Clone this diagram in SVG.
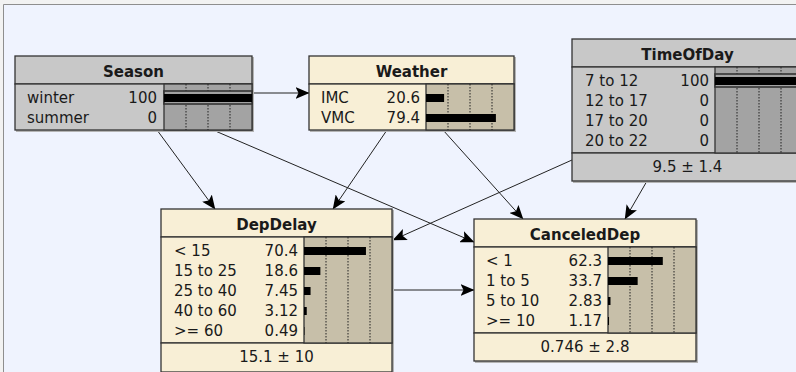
<svg xmlns="http://www.w3.org/2000/svg" width="796" height="372" viewBox="0 0 796 372">
<defs>
<style>
.t{font-family:"DejaVu Sans",sans-serif;font-size:15px;fill:#1a1a1a}
.b{font-weight:bold;text-anchor:middle}
.r{text-anchor:end}
.m{text-anchor:middle}
.cream{fill:#F8EFD6;stroke:#333;stroke-width:1.3}
.tan{fill:#C7BFA9;stroke:#333;stroke-width:1.3}
.grey{fill:#C8C8C8;stroke:#333;stroke-width:1.3}
.dgrey{fill:#A3A3A3;stroke:#333;stroke-width:1.3}
.sh{fill:#B4B4B4}
.bar{fill:#000}
.dot{stroke:#222;stroke-width:1;stroke-dasharray:1.5,1.5}
.sel{fill:#A3A3A3;stroke:#333;stroke-width:1.6}
.edge{stroke:#222;stroke-width:1;fill:none;marker-end:url(#ah)}
</style>
<marker id="ah" markerUnits="userSpaceOnUse" markerWidth="14" markerHeight="12" viewBox="0 0 14 12" refX="13.5" refY="6" orient="auto">
<path d="M0,0 L14,6 L0,12 L3,6 Z" fill="#000"/>
</marker>
</defs>
<rect x="0" y="0" width="796" height="372" fill="#F2F2F2"/>
<rect x="4" y="5" width="792" height="367" fill="#EFF3FE"/>
<path d="M3.5,372 V4.5 H796" stroke="#8E8E8E" stroke-width="1" fill="none"/>

<g id="connectors">
<path class="edge" d="M252,93 L309,93"/>
<path class="edge" d="M157,130 L215,209"/>
<path class="edge" d="M213,130 L474,242"/>
<path class="edge" d="M387,130 L333,209"/>
<path class="edge" d="M443,130 L523,219"/>
<path class="edge" d="M572,160 L393,240"/>
<path class="edge" d="M647,181 L625,219"/>
<path class="edge" d="M392,290 L474,290"/>
</g>

<g id="Season">
<rect class="sh" x="16" y="57" width="238" height="75"/>
<rect class="grey" x="15" y="56" width="237" height="28"/>
<rect class="grey" x="15" y="84" width="237" height="46"/>
<rect class="dgrey" x="164" y="84" width="88" height="46"/>
<line class="dot" x1="186" y1="84" x2="186" y2="130"/>
<line class="dot" x1="208" y1="84" x2="208" y2="130"/>
<line class="dot" x1="230" y1="84" x2="230" y2="130"/>
<rect class="sel" x="164" y="91" width="88" height="13"/>
<rect class="bar" x="164" y="94" width="88" height="8"/>
<text class="t b" x="133.5" y="77">Season</text>
<text class="t" x="27" y="102.5">winter</text>
<text class="t r" x="157" y="102.5">100</text>
<text class="t" x="27" y="122.5">summer</text>
<text class="t r" x="157" y="122.5">0</text>
</g>

<g id="Weather">
<rect class="sh" x="310" y="57" width="206" height="75"/>
<rect class="cream" x="309" y="56" width="205" height="28"/>
<rect class="cream" x="309" y="84" width="205" height="46"/>
<rect class="tan" x="426" y="84" width="88" height="46"/>
<line class="dot" x1="448" y1="84" x2="448" y2="130"/>
<line class="dot" x1="470" y1="84" x2="470" y2="130"/>
<line class="dot" x1="492" y1="84" x2="492" y2="130"/>
<rect class="bar" x="426" y="94" width="18.1" height="8"/>
<rect class="bar" x="426" y="114" width="69.9" height="8"/>
<text class="t b" x="411.5" y="77">Weather</text>
<text class="t" x="321" y="102.5">IMC</text>
<text class="t r" x="420" y="102.5">20.6</text>
<text class="t" x="321" y="122.5">VMC</text>
<text class="t r" x="420" y="122.5">79.4</text>
</g>

<g id="TimeOfDay">
<rect class="sh" x="573" y="40" width="232" height="143"/>
<rect class="grey" x="572" y="39" width="231" height="28"/>
<rect class="grey" x="572" y="67" width="231" height="86"/>
<rect class="grey" x="572" y="153" width="231" height="28"/>
<rect class="dgrey" x="715" y="67" width="88" height="86"/>
<line class="dot" x1="737" y1="67" x2="737" y2="153"/>
<line class="dot" x1="759" y1="67" x2="759" y2="153"/>
<line class="dot" x1="781" y1="67" x2="781" y2="153"/>
<rect class="sel" x="715" y="74" width="88" height="13"/>
<rect class="bar" x="715" y="77" width="88" height="8"/>
<text class="t b" x="687.5" y="60">TimeOfDay</text>
<text class="t" x="585" y="85.5">7 to 12</text>
<text class="t r" x="709" y="85.5">100</text>
<text class="t" x="585" y="105.5">12 to 17</text>
<text class="t r" x="709" y="105.5">0</text>
<text class="t" x="585" y="125.5">17 to 20</text>
<text class="t r" x="709" y="125.5">0</text>
<text class="t" x="585" y="145.5">20 to 22</text>
<text class="t r" x="709" y="145.5">0</text>
<text class="t m" x="687.5" y="172">9.5 ± 1.4</text>
</g>

<g id="DepDelay">
<rect class="sh" x="162" y="210" width="232" height="164"/>
<rect class="cream" x="161" y="209" width="231" height="28"/>
<rect class="cream" x="161" y="237" width="231" height="106"/>
<rect class="cream" x="161" y="343" width="231" height="29"/>
<rect class="tan" x="304" y="237" width="88" height="106"/>
<line class="dot" x1="326" y1="237" x2="326" y2="343"/>
<line class="dot" x1="348" y1="237" x2="348" y2="343"/>
<line class="dot" x1="370" y1="237" x2="370" y2="343"/>
<rect class="bar" x="304" y="247" width="61.95" height="8"/>
<rect class="bar" x="304" y="267" width="16.37" height="8"/>
<rect class="bar" x="304" y="287" width="6.56" height="8"/>
<rect class="bar" x="304" y="307" width="2.75" height="8"/>
<rect class="bar" x="304" y="327" width="0.43" height="8"/>
<text class="t b" x="276.5" y="230">DepDelay</text>
<text class="t" x="174" y="255.5">&lt; 15</text>
<text class="t r" x="298" y="255.5">70.4</text>
<text class="t" x="174" y="275.5">15 to 25</text>
<text class="t r" x="298" y="275.5">18.6</text>
<text class="t" x="174" y="295.5">25 to 40</text>
<text class="t r" x="298" y="295.5">7.45</text>
<text class="t" x="174" y="315.5">40 to 60</text>
<text class="t r" x="298" y="315.5">3.12</text>
<text class="t" x="174" y="335.5">&gt;= 60</text>
<text class="t r" x="298" y="335.5">0.49</text>
<text class="t m" x="276.5" y="362">15.1 ± 10</text>
</g>

<g id="CanceledDep">
<rect class="sh" x="475" y="220" width="223" height="143"/>
<rect class="cream" x="474" y="219" width="222" height="28"/>
<rect class="cream" x="474" y="247" width="222" height="86"/>
<rect class="cream" x="474" y="333" width="222" height="28"/>
<rect class="tan" x="608" y="247" width="88" height="86"/>
<line class="dot" x1="630" y1="247" x2="630" y2="333"/>
<line class="dot" x1="652" y1="247" x2="652" y2="333"/>
<line class="dot" x1="674" y1="247" x2="674" y2="333"/>
<rect class="bar" x="608" y="257" width="54.8" height="8"/>
<rect class="bar" x="608" y="277" width="29.66" height="8"/>
<rect class="bar" x="608" y="297" width="2.49" height="8"/>
<rect class="bar" x="608" y="317" width="1.03" height="8"/>
<text class="t b" x="585" y="240">CanceledDep</text>
<text class="t" x="486" y="265.5">&lt; 1</text>
<text class="t r" x="602" y="265.5">62.3</text>
<text class="t" x="486" y="285.5">1 to 5</text>
<text class="t r" x="602" y="285.5">33.7</text>
<text class="t" x="486" y="305.5">5 to 10</text>
<text class="t r" x="602" y="305.5">2.83</text>
<text class="t" x="486" y="325.5">&gt;= 10</text>
<text class="t r" x="602" y="325.5">1.17</text>
<text class="t m" x="585" y="352">0.746 ± 2.8</text>
</g>
</svg>
